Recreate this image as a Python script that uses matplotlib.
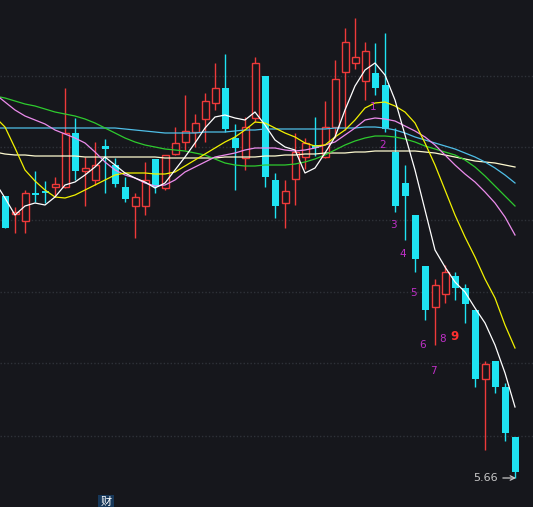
import numpy as np
import matplotlib
matplotlib.use("Agg")
import matplotlib.pyplot as plt

# K线数据 (开, 高, 低, 收)
opens = [11.30, 10.94, 10.80, 11.36, 11.40, 11.48, 11.48, 12.56, 11.80, 11.62,
         12.30, 11.92, 11.48, 11.10, 11.10, 12.04, 11.46, 12.14, 12.38, 12.58,
         12.84, 13.16, 13.46, 12.46, 12.06, 12.86, 13.70, 11.62, 11.16, 11.64,
         12.08, 12.32, 12.08, 12.68, 13.78, 13.96, 13.60, 13.76, 13.52, 12.18,
         11.56, 10.92, 9.90, 9.08, 9.34, 9.70, 9.46, 9.02, 7.64, 8.00,
         7.48, 6.48]
highs = [11.30, 11.08, 11.42, 11.80, 11.60, 11.68, 13.46, 12.86, 12.08, 12.38,
         12.44, 12.06, 11.68, 11.36, 11.98, 12.04, 12.12, 12.68, 13.32, 12.94,
         13.36, 13.96, 14.14, 12.74, 12.88, 14.08, 13.70, 11.76, 11.62, 12.56,
         12.46, 12.88, 13.20, 14.02, 14.66, 14.86, 14.38, 14.36, 14.56, 12.66,
         11.92, 10.92, 9.90, 9.64, 9.92, 9.78, 9.54, 9.02, 8.00, 8.00,
         7.56, 6.48]
lows = [10.66, 10.56, 10.56, 11.18, 11.16, 11.28, 11.46, 11.62, 11.10, 11.52,
        11.36, 11.48, 11.18, 10.46, 10.92, 11.36, 11.42, 12.12, 12.22, 12.28,
        12.38, 13.02, 12.58, 11.42, 11.82, 12.78, 11.48, 10.86, 10.66, 11.12,
        11.84, 12.10, 12.06, 12.46, 12.62, 13.84, 13.22, 13.32, 12.58, 10.98,
        10.42, 9.78, 8.82, 8.32, 9.16, 9.22, 8.76, 7.48, 6.22, 7.36,
        6.40, 5.66]
closes = [10.66, 10.98, 11.36, 11.32, 11.36, 11.54, 12.56, 11.80, 11.86, 11.92,
          12.24, 11.54, 11.24, 11.28, 11.62, 11.48, 12.12, 12.36, 12.60, 12.76,
          13.20, 13.46, 12.64, 12.26, 12.68, 13.96, 11.68, 11.10, 11.40, 12.18,
          12.36, 12.26, 12.68, 13.64, 14.38, 14.08, 14.20, 13.46, 12.64, 11.10,
          11.30, 10.04, 9.02, 9.52, 9.78, 9.46, 9.14, 7.64, 7.94, 7.48,
          6.56, 5.78]

# 均线 (第一个值是图左边缘处读数)
ma5 = [11.42,
       11.26, 10.92, 11.10, 11.16, 11.12, 11.28, 11.52, 11.58, 11.72, 11.88,
       12.08, 11.92, 11.76, 11.66, 11.58, 11.46, 11.56, 11.82, 12.08, 12.36,
       12.66, 12.88, 12.92, 12.86, 12.82, 12.98, 12.72, 12.42, 12.28, 12.22,
       11.76, 11.86, 12.16, 12.48, 13.02, 13.50, 13.82, 13.96, 13.72, 13.22,
       12.52, 11.82, 11.02, 10.22, 9.88, 9.58, 9.38, 9.06, 8.76, 8.32,
       7.76, 7.08]
ma10 = [12.78,
        12.68, 12.26, 11.82, 11.60, 11.42, 11.28, 11.26, 11.32, 11.42, 11.52,
        11.62, 11.72, 11.76, 11.76, 11.76, 11.74, 11.74, 11.78, 11.90, 12.02,
        12.14, 12.26, 12.38, 12.48, 12.62, 12.78, 12.76, 12.66, 12.56, 12.48,
        12.36, 12.30, 12.32, 12.48, 12.62, 12.82, 13.06, 13.16, 13.18, 13.10,
        12.98, 12.76, 12.36, 11.92, 11.42, 10.92, 10.48, 10.08, 9.64, 9.26,
        8.72, 8.26]
ma20 = [13.26,
        13.18, 13.02, 12.90, 12.82, 12.74, 12.62, 12.54, 12.46, 12.36, 12.18,
        11.98, 11.82, 11.72, 11.66, 11.56, 11.50, 11.52, 11.62, 11.78, 11.88,
        11.98, 12.08, 12.12, 12.16, 12.22, 12.26, 12.26, 12.26, 12.22, 12.20,
        12.22, 12.26, 12.32, 12.38, 12.52, 12.66, 12.82, 12.86, 12.84, 12.80,
        12.70, 12.60, 12.48, 12.32, 12.12, 11.92, 11.74, 11.58, 11.38, 11.16,
        10.88, 10.52]
ma30 = [13.28,
        13.26, 13.20, 13.14, 13.10, 13.04, 12.98, 12.94, 12.90, 12.84, 12.76,
        12.66, 12.56, 12.46, 12.38, 12.32, 12.28, 12.24, 12.22, 12.20, 12.16,
        12.12, 12.04, 11.96, 11.92, 11.90, 11.90, 11.92, 11.92, 11.92, 11.94,
        11.98, 12.04, 12.12, 12.22, 12.32, 12.40, 12.46, 12.50, 12.50, 12.48,
        12.44, 12.38, 12.30, 12.24, 12.18, 12.12, 12.02, 11.88, 11.70, 11.50,
        11.30, 11.10]
ma60 = [12.66,
        12.66, 12.66, 12.66, 12.66, 12.66, 12.66, 12.66, 12.66, 12.66, 12.66,
        12.66, 12.66, 12.64, 12.62, 12.60, 12.58, 12.56, 12.56, 12.56, 12.56,
        12.58, 12.58, 12.58, 12.60, 12.62, 12.62, 12.64, 12.64, 12.64, 12.64,
        12.64, 12.64, 12.64, 12.66, 12.66, 12.66, 12.68, 12.68, 12.66, 12.62,
        12.56, 12.48, 12.42, 12.36, 12.30, 12.24, 12.16, 12.08, 11.98, 11.86,
        11.72, 11.56]
ma120 = [12.16,
         12.14, 12.12, 12.12, 12.10, 12.10, 12.10, 12.10, 12.10, 12.08, 12.08,
         12.08, 12.08, 12.08, 12.08, 12.08, 12.08, 12.06, 12.06, 12.06, 12.06,
         12.06, 12.06, 12.08, 12.08, 12.08, 12.08, 12.10, 12.10, 12.12, 12.12,
         12.14, 12.14, 12.16, 12.16, 12.16, 12.18, 12.18, 12.20, 12.20, 12.20,
         12.20, 12.20, 12.18, 12.16, 12.12, 12.08, 12.04, 12.00, 11.98, 11.96,
         11.92, 11.88]

# 九转序列标记
td_idx = [37, 38, 39, 40, 41, 42, 43, 44, 45]
td_text = ["1", "2", "3", "4", "5", "6", "7", "8", "9"]
td_price = [13.08, 12.32, 10.72, 10.14, 9.36, 8.32, 7.80, 8.44, 8.50]

grid_prices = [13.70, 12.28, 10.82, 9.38, 7.96, 6.50]
last_low = 5.66

bg = "#16171c"
up_col = "#ee3a3a"
down_col = "#1ee3f2"

fig = plt.figure(figsize=(5.33, 5.07), dpi=100, facecolor=bg)
ax = fig.add_axes([0, 0, 1, 1])
ax.set_facecolor(bg)
ax.set_xlim(-0.5, 52.8)
ax.set_ylim(5.08, 15.22)
ax.axis("off")

for g in grid_prices:
    ax.axhline(g, color="#2f3239", lw=1.0, ls=(0, (1, 1.5)), zorder=0)

x = np.arange(len(opens))
w = 0.7
for i in x:
    o, h, l, c = opens[i], highs[i], lows[i], closes[i]
    top = max(o, c)
    bot = min(o, c)
    if c > o:
        # 阳线空心
        ax.vlines(i, top, h, color=up_col, lw=1.0, zorder=3)
        ax.vlines(i, l, bot, color=up_col, lw=1.0, zorder=3)
        ax.bar(i, max(top - bot, 0.02), bottom=bot, width=w,
               facecolor=bg, edgecolor=up_col, lw=1.0, zorder=3)
    else:
        ax.vlines(i, l, h, color=down_col, lw=1.0, zorder=3)
        ax.bar(i, max(top - bot, 0.04), bottom=bot, width=w,
               color=down_col, lw=0, zorder=3)

# 均线横坐标: 左边缘 + 每根K线
xm = np.concatenate([[-0.5], x])
ax.plot(xm, ma120, color="#fffbd0", lw=0.9, zorder=4)
ax.plot(xm, ma60, color="#4fbfe8", lw=0.9, zorder=4)
ax.plot(xm, ma30, color="#2ecb2e", lw=0.9, zorder=4)
ax.plot(xm, ma20, color="#ec8cec", lw=0.9, zorder=4)
ax.plot(xm, ma10, color="#f2f200", lw=0.9, zorder=4)
ax.plot(xm, ma5, color="#ffffff", lw=0.9, zorder=5)

for i, t, p in zip(td_idx, td_text, td_price):
    if t == "9":
        ax.text(i - 0.1, p, t, color="#ff3030", fontsize=8.5, fontweight="bold",
                ha="center", va="center", zorder=6)
    else:
        ax.text(i - 0.2, p, t, color="#c030c8", fontsize=7.5,
                ha="center", va="center", zorder=6)

ax.annotate("%.2f" % last_low, xy=(51.1, last_low), xytext=(48.0, last_low),
            color="#c8c8c8", fontsize=8, ha="center", va="center",
            arrowprops=dict(arrowstyle="->", color="#c8c8c8", lw=0.9,
                            shrinkA=2, shrinkB=0))

fig.text(106 / 533, 1 - 502 / 507, "财", color="#ffffff", fontsize=8,
         family=["Noto Sans CJK SC", "DejaVu Sans"], ha="center", va="center",
         bbox=dict(facecolor="#17385a", edgecolor="none", pad=1.5))

fig.savefig("out.png", dpi=100, facecolor=bg)
